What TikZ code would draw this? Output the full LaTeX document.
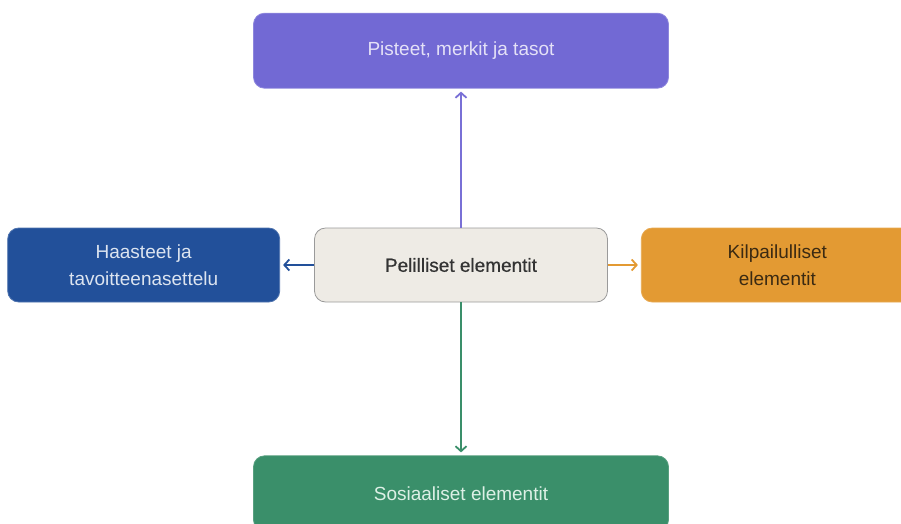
\documentclass[tikz,border=0pt]{standalone}
\usepackage{fontspec}
\setmainfont{Liberation Sans}
\usepackage{tikz}
\usetikzlibrary{arrows.meta,positioning}
\definecolor{vio}{HTML}{7269D4}
\definecolor{viotxt}{HTML}{E4E1F7}
\definecolor{sin}{HTML}{22509A}
\definecolor{sintxt}{HTML}{DCE4F0}
\definecolor{bei}{HTML}{EEEBE5}
\definecolor{beiline}{HTML}{9A9A9A}
\definecolor{ora}{HTML}{E39A33}
\definecolor{oratxt}{HTML}{3B2A12}
\definecolor{vih}{HTML}{3A8F6A}
\definecolor{vihtxt}{HTML}{DDF0E6}
\tikzstyle{laatikko} = [rectangle, rounded corners=11pt, align=center, inner sep=0pt, line width=0.8pt, font=\fontsize{19}{27}\selectfont]
\tikzstyle{nuoli} = [-{Straight Barb[length=5pt,width=11pt]}, line width=1.8pt, shorten >=3pt]

\begin{document}
\begin{tikzpicture}
		[
			x=1pt, y=1pt,
			node distance=34pt,
			iso/.style={laatikko, minimum width=415pt, minimum height=75pt},
			sivu/.style={laatikko, minimum width=272pt, minimum height=74pt}
		]
		\useasboundingbox (0,0) rectangle (901,-523);
		% keskus
		\node[laatikko, minimum width=293pt, minimum height=74pt, fill=bei, draw=beiline, text=black!80,
			font=\fontsize{19}{27}\selectfont\addfontfeature{FakeBold=0.7}] (peli) at (461,-265) {Pelilliset elementit};
		\node[iso, fill=vio, draw=vio!80!white, text=viotxt, above=139pt of peli] (pisteet) {Pisteet, merkit ja tasot};
		\node[sivu, fill=sin, draw=sin!80!white, text=sintxt, left=34pt of peli] (haasteet) {Haasteet ja\\tavoitteenasettelu};
		\node[sivu, fill=ora, draw=ora!85!white, text=oratxt, right=33pt of peli] (kilpailu) {Kilpailulliset\\elementit};
		\node[iso, fill=vih, draw=vih!85!white, text=vihtxt, below=153pt of peli] (sosiaali) {Sosiaaliset elementit};
		% nuolet
		\draw[nuoli, vio!95!white] (peli) -- (pisteet);
		\draw[nuoli, sin] (peli) -- (haasteet);
		\draw[nuoli, ora] (peli) -- (kilpailu);
		\draw[nuoli, vih] (peli) -- (sosiaali);
	\end{tikzpicture}
\end{document}
